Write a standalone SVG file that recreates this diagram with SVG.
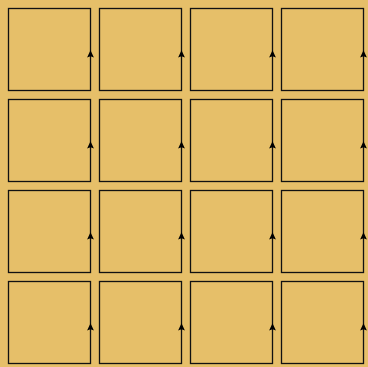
<svg xmlns="http://www.w3.org/2000/svg" width="368" height="367" viewBox="0 0 368 367">
<defs>
<style>
.bg{fill:#E6BF69}
.cell rect{fill:#E6BF69;stroke:#111;stroke-width:1.3}
.ah{fill:#000}
</style>
<path id="ah" class="ah" d="M0,0 L3.4,7.2 L0,6 L-3.4,7.2 Z"/>
</defs>
<rect class="bg" x="0" y="0" width="368" height="367"/>
<g id="c00" class="cell"><rect x="8.5" y="8.5" width="82" height="82"/></g>
<g id="c01" class="cell"><rect x="99.5" y="8.5" width="82" height="82"/></g>
<g id="c02" class="cell"><rect x="190.5" y="8.5" width="82" height="82"/></g>
<g id="c03" class="cell"><rect x="281.5" y="8.5" width="82" height="82"/></g>
<g id="c10" class="cell"><rect x="8.5" y="99.5" width="82" height="82"/></g>
<g id="c11" class="cell"><rect x="99.5" y="99.5" width="82" height="82"/></g>
<g id="c12" class="cell"><rect x="190.5" y="99.5" width="82" height="82"/></g>
<g id="c13" class="cell"><rect x="281.5" y="99.5" width="82" height="82"/></g>
<g id="c20" class="cell"><rect x="8.5" y="190.5" width="82" height="82"/></g>
<g id="c21" class="cell"><rect x="99.5" y="190.5" width="82" height="82"/></g>
<g id="c22" class="cell"><rect x="190.5" y="190.5" width="82" height="82"/></g>
<g id="c23" class="cell"><rect x="281.5" y="190.5" width="82" height="82"/></g>
<g id="c30" class="cell"><rect x="8.5" y="281.5" width="82" height="82"/></g>
<g id="c31" class="cell"><rect x="99.5" y="281.5" width="82" height="82"/></g>
<g id="c32" class="cell"><rect x="190.5" y="281.5" width="82" height="82"/></g>
<g id="c33" class="cell"><rect x="281.5" y="281.5" width="82" height="82"/></g>
<g id="arrows">
<use href="#ah" x="90.5" y="50.3"/>
<use href="#ah" x="181.5" y="50.3"/>
<use href="#ah" x="272.5" y="50.3"/>
<use href="#ah" x="363.5" y="50.3"/>
<use href="#ah" x="90.5" y="141.3"/>
<use href="#ah" x="181.5" y="141.3"/>
<use href="#ah" x="272.5" y="141.3"/>
<use href="#ah" x="363.5" y="141.3"/>
<use href="#ah" x="90.5" y="232.3"/>
<use href="#ah" x="181.5" y="232.3"/>
<use href="#ah" x="272.5" y="232.3"/>
<use href="#ah" x="363.5" y="232.3"/>
<use href="#ah" x="90.5" y="323.3"/>
<use href="#ah" x="181.5" y="323.3"/>
<use href="#ah" x="272.5" y="323.3"/>
<use href="#ah" x="363.5" y="323.3"/>
</g>
</svg>
